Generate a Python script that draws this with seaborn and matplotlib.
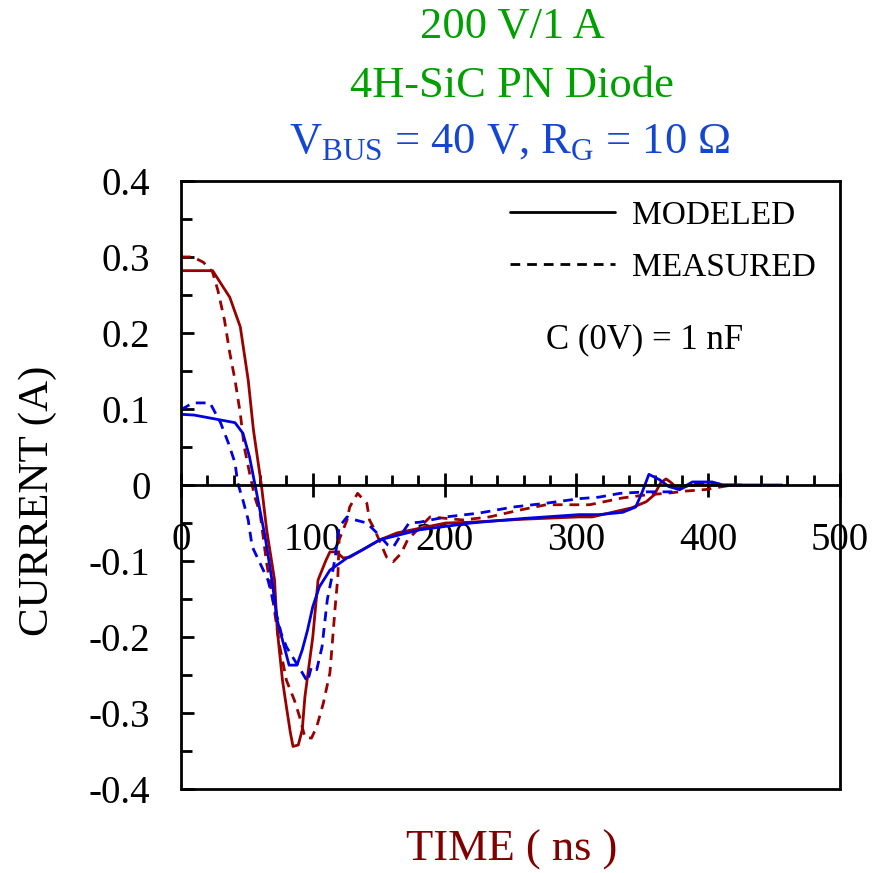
import numpy as np
import pandas as pd
import matplotlib
matplotlib.use("Agg")
import matplotlib.pyplot as plt
from matplotlib.ticker import MultipleLocator
from matplotlib.lines import Line2D
import seaborn as sns

# ---------------- data ----------------
red_model_t = [0, 24, 37, 45, 51, 55, 61, 65, 71, 73, 77, 80, 83, 85, 89, 92, 94, 98, 100,
               104, 110, 113, 118, 123, 128, 138, 151, 164, 181, 201, 219, 260, 302, 312,
               327, 342, 353, 359, 364, 368, 372, 376, 384, 393, 425]
red_model_i = [0.282, 0.282, 0.247, 0.208, 0.138, 0.072, 0.0, -0.059, -0.125, -0.19, -0.257,
               -0.292, -0.326, -0.344, -0.342, -0.322, -0.279, -0.226, -0.2, -0.125, -0.099,
               -0.088, -0.088, -0.096, -0.095, -0.085, -0.072, -0.063, -0.057, -0.05, -0.049,
               -0.045, -0.042, -0.042, -0.036, -0.03, -0.022, -0.013, 0.003, 0.008, 0.003,
               -0.004, -0.001, 0.0, 0.0]

blue_model_t = [0, 10, 41, 47, 52, 58, 64, 69, 73, 79, 82, 88, 92, 96, 100, 105, 113, 126,
                138, 151, 181, 220, 260, 302, 317, 335, 345, 350, 355, 363, 370, 378, 388,
                403, 411, 456]
blue_model_i = [0.093, 0.092, 0.082, 0.068, 0.037, -0.016, -0.07, -0.125, -0.178, -0.217,
                -0.237, -0.237, -0.217, -0.191, -0.16, -0.134, -0.112, -0.096, -0.085, -0.072,
                -0.059, -0.05, -0.044, -0.039, -0.039, -0.036, -0.029, -0.009, 0.014, 0.007,
                -0.002, -0.006, 0.004, 0.004, 0.0, 0.0]

red_meas_t = [0, 9, 17, 24, 28, 33, 37, 41, 45, 48, 52, 56, 60, 65, 70, 75, 80, 86, 90, 94,
              99, 103, 108, 113, 115, 117, 119, 120, 126, 128, 134, 141, 143, 147, 156, 161,
              167, 172, 189, 214, 234, 257, 277, 310, 335, 353, 368, 383, 398, 408, 418]
red_meas_i = [0.3, 0.3, 0.293, 0.28, 0.256, 0.217, 0.174, 0.138, 0.094, 0.05, 0.016, -0.016,
              -0.037, -0.103, -0.155, -0.213, -0.257, -0.283, -0.305, -0.332, -0.333, -0.318,
              -0.287, -0.247, -0.204, -0.16, -0.121, -0.072, -0.046, -0.029, -0.011, -0.024,
              -0.046, -0.059, -0.095, -0.101, -0.09, -0.072, -0.042, -0.046, -0.042, -0.033,
              -0.026, -0.026, -0.017, -0.013, -0.011, -0.008, -0.006, -0.003, 0.0]

blue_meas_t = [0, 9, 22, 30, 36, 41, 43, 47, 51, 54, 60, 66, 71, 76, 80, 86, 92, 96, 99, 103,
               107, 109, 111, 114, 117, 120, 126, 130, 141, 148, 157, 161, 166, 173, 181, 201,
               226, 252, 277, 302, 317, 333, 353, 375, 383, 391, 403, 412]
blue_meas_i = [0.099, 0.108, 0.108, 0.082, 0.055, 0.029, 0.003, -0.02, -0.046, -0.081, -0.103,
               -0.125, -0.16, -0.195, -0.213, -0.23, -0.247, -0.259, -0.239, -0.243, -0.213,
               -0.182, -0.151, -0.125, -0.095, -0.055, -0.042, -0.045, -0.05, -0.062, -0.079,
               -0.082, -0.068, -0.05, -0.049, -0.042, -0.037, -0.029, -0.024, -0.018, -0.016,
               -0.011, -0.009, -0.009, -0.002, 0.003, 0.003, 0.0]

x_ticks = [0, 100, 200, 300, 400, 500]
x_tick_labels = ["0", "100", "200", "300", "400", "500"]
y_ticks = [-0.4, -0.3, -0.2, -0.1, 0.0, 0.1, 0.2, 0.3, 0.4]
y_tick_labels = ["-0.4", "-0.3", "-0.2", "-0.1", "0", "0.1", "0.2", "0.3", "0.4"]
legend_labels = ["MODELED", "MEASURED"]

# ---------------- build long table ----------------
frames = []
for curve, kind, t, i in [("red", "MODELED", red_model_t, red_model_i),
                          ("blue", "MODELED", blue_model_t, blue_model_i),
                          ("red", "MEASURED", red_meas_t, red_meas_i),
                          ("blue", "MEASURED", blue_meas_t, blue_meas_i)]:
    frames.append(pd.DataFrame({"time": t, "current": i, "curve": curve, "kind": kind}))
df = pd.concat(frames, ignore_index=True)

# ---------------- style ----------------
sns.set_style("ticks")
plt.rcParams["font.family"] = ["Liberation Serif", "DejaVu Serif"]
plt.rcParams["mathtext.fontset"] = "custom"
plt.rcParams["mathtext.rm"] = "Liberation Serif"
plt.rcParams["axes.unicode_minus"] = False
plt.rcParams["text.color"] = "black"
plt.rcParams["axes.labelcolor"] = "black"
plt.rcParams["xtick.color"] = "black"
plt.rcParams["ytick.color"] = "black"

RED = "#990000"
BLUE = "#0000E0"
GREEN = "#00A000"
TBLUE = "#1446D2"

fig = plt.figure(figsize=(8.82, 8.73), dpi=100)
ax = fig.add_axes([0.2052, 0.0962, 0.7472, 0.6965])

sns.lineplot(data=df, x="time", y="current", hue="curve", style="kind",
             palette={"red": RED, "blue": BLUE},
             dashes={"MODELED": "", "MEASURED": (3.5, 2.5)},
             sort=False, estimator=None, legend=False, linewidth=2.0, ax=ax)

ax.set_xlim(0, 500)
ax.set_ylim(-0.4, 0.4)

# axes / spines
for s in ax.spines.values():
    s.set_linewidth(2.0)
    s.set_color("black")
ax.spines["bottom"].set_position(("data", 0))
ax.plot([0, 1], [0, 0], transform=ax.transAxes, color="black", lw=2.0, clip_on=False)

ax.set_xticks(x_ticks, x_tick_labels)
ax.set_yticks(y_ticks, y_tick_labels)
ax.xaxis.set_minor_locator(MultipleLocator(20))
ax.yaxis.set_minor_locator(MultipleLocator(0.05))
ax.tick_params(axis="x", which="major", direction="inout", length=17, width=2,
               pad=18, labelsize=28, labelcolor="black", color="black")
ax.tick_params(axis="x", which="minor", direction="in", length=7, width=2, color="black")
ax.tick_params(axis="y", which="major", direction="in", length=9, width=2,
               pad=22, labelsize=28, labelcolor="black", color="black")
ax.tick_params(axis="y", which="minor", direction="in", length=8, width=2, color="black")
ax.tick_params(top=False, right=False)

ax.set_xlabel("TIME ( ns )", fontsize=32, color="#800000", va="center")
ax.xaxis.set_label_coords(0.502, -0.10)
ax.set_ylabel("CURRENT (A)", fontsize=31, color="black", va="center")
ax.yaxis.set_label_coords(-0.217, 0.474)

# legend
handles = [Line2D([], [], color="black", lw=2.0),
           Line2D([], [], color="black", lw=2.0, dashes=(3.5, 2.5))]
leg = ax.legend(handles, legend_labels, loc="upper left", bbox_to_anchor=(0.499, 0.968),
                frameon=False, fontsize=24, handlelength=3.15, handletextpad=0.5,
                labelspacing=0.65, borderpad=0, borderaxespad=0)
for txt in leg.get_texts():
    txt.set_color("black")

ax.text(0.704, 0.738, "C (0V) = 1 nF", transform=ax.transAxes, ha="center",
        va="center", fontsize=25, color="black")

# titles
fig.text(512 / 882, 1 - 27 / 873, "200 V/1 A", ha="center", va="center",
         fontsize=32, color=GREEN)
fig.text(512 / 882, 1 - 86 / 873, "4H-SiC PN Diode", ha="center", va="center",
         fontsize=32, color=GREEN)
fig.text(510 / 882, 1 - 143 / 873,
         r"V$_\mathregular{BUS}$ = 40 V, R$_\mathregular{G}$ = 10 Ω",
         ha="center", va="center", fontsize=32, color=TBLUE)

fig.savefig("out.png", dpi=100)
